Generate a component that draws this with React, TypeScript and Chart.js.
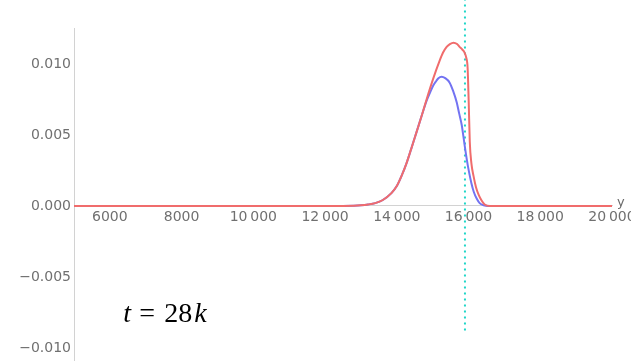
import React, { useEffect, useRef } from "react";
import { Chart, registerables } from "chart.js";

Chart.register(...registerables);

// ---- data ----
const redX = [5000, 12500, 12800, 13000, 13200, 13400, 13600, 13850, 14000, 14130, 14270, 14400, 14550, 14700, 14830, 15020, 15190, 15290, 15390, 15480, 15580, 15680, 15750, 15830, 15890, 15940, 15975, 16005, 16035, 16080, 16140, 16210, 16280, 16360, 16450, 16600, 20000];
const redY = [0, 0, 0.00001, 0.00004, 0.0001, 0.0002, 0.0004, 0.0009, 0.0014, 0.0021, 0.003, 0.004, 0.0052, 0.0064, 0.0075, 0.009, 0.0102, 0.0108, 0.0112, 0.0114, 0.0115, 0.0114, 0.0112, 0.011, 0.0108, 0.0104, 0.0097, 0.0073, 0.0045, 0.003, 0.0021, 0.0013, 0.0008, 0.0004, 0.0001, 0, 0];

const blueX = [5000, 12500, 12800, 13000, 13200, 13400, 13600, 13850, 14000, 14130, 14270, 14400, 14550, 14700, 14830, 14930, 15020, 15100, 15160, 15250, 15350, 15470, 15570, 15670, 15740, 15810, 15890, 15950, 16005, 16080, 16145, 16230, 16310, 16420, 16550, 20000];
const blueY = [0, 0, 0.00001, 0.00004, 0.0001, 0.0002, 0.0004, 0.0009, 0.0014, 0.0021, 0.003, 0.004, 0.0052, 0.0064, 0.0074, 0.008, 0.0085, 0.0088, 0.009, 0.0091, 0.009, 0.0087, 0.0081, 0.0073, 0.0065, 0.0057, 0.0043, 0.0033, 0.0025, 0.0016, 0.001, 0.0005, 0.0002, 0.00005, 0, 0];

const xTicks = [6000, 8000, 10000, 12000, 14000, 16000, 18000, 20000];
const yTicks = [-0.01, -0.005, 0, 0.005, 0.01];

const xRange = [5000, 20000];
const yRange = [-0.01092, 0.01253];

const markerX = 15900;
const markerYSpan = [0.0146, -0.0089];

const xAxisName = "y";
const annotationPos = { x: 6370, y: -0.0082 };
const annotationParts = [
  { text: "t", italic: true, dx: 0 },
  { text: "=", italic: false, dx: 16 },
  { text: "28", italic: false, dx: 41 },
  { text: "k", italic: true, dx: 71 },
];

function fmtX(v: number): string {
  const s = String(Math.round(v));
  return s.length > 4 ? s.slice(0, -3) + "\u2009" + s.slice(-3) : s;
}
function fmtY(v: number): string {
  const s = Math.abs(v).toFixed(3);
  return v < -1e-12 ? "\u2212" + s : s;
}

const textPlugin = {
  id: "extraText",
  afterDraw(chart: any) {
    const ctx = chart.ctx;
    const xs = chart.scales.x;
    const ys = chart.scales.y;
    ctx.save();
    ctx.fillStyle = "#6b6b6b";
    ctx.font = "13px 'DejaVu Sans'";
    ctx.textAlign = "left";
    ctx.textBaseline = "middle";
    ctx.fillText(xAxisName, xs.right + 5, ys.getPixelForValue(0) - 3);
    const x0 = xs.getPixelForValue(annotationPos.x);
    const y0 = ys.getPixelForValue(annotationPos.y);
    ctx.fillStyle = "#000";
    ctx.textBaseline = "alphabetic";
    annotationParts.forEach((p) => {
      ctx.font = (p.italic ? "italic " : "") + "28px 'Liberation Serif'";
      ctx.fillText(p.text, x0 + p.dx, y0);
    });
    ctx.restore();
  },
};

export default function App() {
  const ref = useRef<HTMLCanvasElement | null>(null);
  useEffect(() => {
    if (!ref.current) return;
    const chart = new Chart(ref.current, {
      type: "line",
      data: {
        datasets: [
          {
            label: "red",
            data: redX.map((x, i) => ({ x, y: redY[i] })),
            borderColor: "rgb(240,108,108)",
            borderWidth: 2,
            pointRadius: 0,
            cubicInterpolationMode: "monotone",
            fill: false,
          },
          {
            label: "blue",
            data: blueX.map((x, i) => ({ x, y: blueY[i] })),
            borderColor: "rgb(115,115,242)",
            borderWidth: 2,
            pointRadius: 0,
            cubicInterpolationMode: "monotone",
            fill: false,
          },
          {
            label: "marker",
            data: markerYSpan.map((y) => ({ x: markerX, y })),
            borderColor: "rgb(30,214,200)",
            borderWidth: 2,
            borderDash: [2, 4],
            borderCapStyle: "butt",
            pointRadius: 0,
            clip: false as any,
            fill: false,
          },
        ],
      },
      options: {
        animation: false,
        responsive: false,
        maintainAspectRatio: false,
        layout: { padding: { top: 28, right: 19, bottom: 0, left: 0 } },
        plugins: { legend: { display: false }, tooltip: { enabled: false } },
        scales: {
          x: {
            type: "linear",
            min: xRange[0],
            max: xRange[1],
            position: { y: 0 } as any,
            grid: { display: false, drawTicks: false },
            border: { display: true, color: "#d2d2d2", width: 1 },
            ticks: {
              font: { family: "DejaVu Sans", size: 14 },
              color: "#707070",
              padding: 3,
              maxRotation: 0,
              autoSkip: false,
              callback: (v: any) => fmtX(Number(v)),
            },
            afterBuildTicks: (s: any) => {
              s.ticks = xTicks.map((v) => ({ value: v }));
            },
            afterFit: (s: any) => {
              s.paddingLeft = 0;
              s.paddingRight = 0;
            },
          },
          y: {
            type: "linear",
            min: yRange[0],
            max: yRange[1],
            position: "left",
            grid: { display: false, drawTicks: false },
            border: { display: true, color: "#d2d2d2", width: 1 },
            ticks: {
              font: { family: "DejaVu Sans", size: 14 },
              color: "#707070",
              padding: 3,
              autoSkip: false,
              callback: (v: any) => fmtY(Number(v)),
            },
            afterBuildTicks: (s: any) => {
              s.ticks = yTicks.map((v) => ({ value: v }));
            },
            afterFit: (s: any) => {
              s.width = 74;
              s.paddingTop = 0;
              s.paddingBottom = 0;
            },
          },
        },
      } as any,
      plugins: [textPlugin],
    });
    return () => chart.destroy();
  }, []);
  return (
    <div style={{ position: "fixed", left: 0, top: 0, width: 631, height: 361, background: "#fff", overflow: "hidden" }}>
      <canvas ref={ref} width={631} height={361} style={{ display: "block" }} />
    </div>
  );
}
